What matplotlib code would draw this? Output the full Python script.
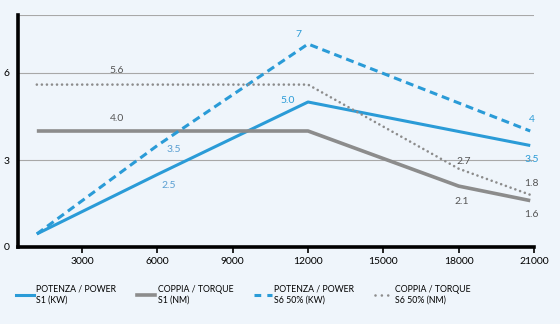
import matplotlib
matplotlib.use("Agg")
import matplotlib.pyplot as plt
from matplotlib.lines import Line2D

plt.rcParams['font.family'] = ['Lato', 'DejaVu Sans']

# speed (rpm) breakpoints of each curve
rpm_power_s1 = [1200, 6000, 12000, 20850]
power_s1 = [0.45, 2.5, 5.0, 3.5]

rpm_torque_s1 = [1200, 12000, 18000, 20850]
torque_s1 = [4.0, 4.0, 2.1, 1.6]

rpm_power_s6 = [1200, 6000, 12000, 20850]
power_s6 = [0.45, 3.5, 7.0, 4.0]

rpm_torque_s6 = [1200, 12000, 18000, 20850]
torque_s6 = [5.6, 5.6, 2.7, 1.8]

x_ticks = [3000, 6000, 9000, 12000, 15000, 18000, 21000]
y_ticks = [0, 3, 6]

legend_labels = ['POTENZA / POWER\nS1 (KW)', 'COPPIA / TORQUE\nS1 (NM)',
                 'POTENZA / POWER\nS6 50% (KW)', 'COPPIA / TORQUE\nS6 50% (NM)']

BG = '#eff5fb'
BLUE = '#2a9bd7'
LBLUE = '#5a9fd2'
GREY = '#8c8c8c'
DGREY = '#555555'

fig = plt.figure(figsize=(5.6, 3.24), dpi=100, facecolor=BG)
ax = fig.add_axes([18 / 560, 77 / 324, 516 / 560, 232 / 324], facecolor=BG)

ax.plot(rpm_power_s1, power_s1, color=BLUE, lw=2.2, solid_capstyle='butt')
ax.plot(rpm_torque_s1, torque_s1, color=GREY, lw=2.6, solid_capstyle='butt')
ax.plot(rpm_power_s6, power_s6, color=BLUE, lw=2.2, dashes=(2.6, 1.6))
ax.plot(rpm_torque_s6, torque_s6, color=GREY, lw=1.9, dashes=(0.01, 1.9),
        dash_capstyle='round')

# value labels: (x, y, text, dx, dy in points, colour)
labels = [
    (4400, torque_s6[0], '5.6', 0, 10, DGREY),
    (4400, torque_s1[0], '4.0', 0, 9, DGREY),
    (rpm_power_s6[1], power_s6[1], '3.5', 12, -3, LBLUE),
    (rpm_power_s1[1], power_s1[1], '2.5', 8, -8, LBLUE),
    (rpm_power_s1[2], power_s1[2], '5.0', -15, 1, BLUE),
    (rpm_power_s6[2], power_s6[2], '7', -7, 7, BLUE),
    (rpm_power_s6[3], power_s6[3], '4', 1, 8, BLUE),
    (rpm_power_s1[3], power_s1[3], '3.5', 1, -10, BLUE),
    (rpm_torque_s6[2], torque_s6[2], '2.7', 4, 5, DGREY),
    (rpm_torque_s6[3], torque_s6[3], '1.8', 1, 8, DGREY),
    (rpm_torque_s1[2], torque_s1[2], '2.1', 2, -11, DGREY),
    (rpm_torque_s1[3], torque_s1[3], '1.6', 1, -10, DGREY),
]
for x, y, t, dx, dy, c in labels:
    ax.annotate(t, (x, y), xytext=(dx, dy), textcoords='offset points',
                ha='center', va='center', fontsize=7.5, color=c)

ax.set_xlim(450, 21000)
ax.set_ylim(0, 8)
ax.set_xticks(x_ticks)
ax.set_yticks(y_ticks)
ax.tick_params(axis='x', length=4, width=1.2, labelsize=7.5, pad=3, colors='black')
ax.tick_params(axis='y', length=0, labelsize=7.5, pad=6)
for y in y_ticks[1:] + [8]:
    ax.axhline(y, color='#a8a8a8', lw=0.8, zorder=0)

for s in ['top', 'right']:
    ax.spines[s].set_visible(False)
for s in ['left', 'bottom']:
    ax.spines[s].set_linewidth(2.6)
    ax.spines[s].set_color('black')

handles = [
    Line2D([], [], color=BLUE, lw=2.2),
    Line2D([], [], color=GREY, lw=2.6),
    Line2D([], [], color=BLUE, lw=2.2, dashes=(2.2, 2.0)),
    Line2D([], [], color=GREY, lw=1.9, dashes=(0.01, 2.4), dash_capstyle='round'),
]
fig.legend(handles, legend_labels, ncol=4, loc='upper left',
           bbox_to_anchor=(0.015, 0.145), frameon=False, fontsize=6.3,
           handlelength=2.0, handletextpad=0.3, columnspacing=2.4,
           labelspacing=0.1)

fig.savefig('out.png', dpi=100, facecolor=BG)
